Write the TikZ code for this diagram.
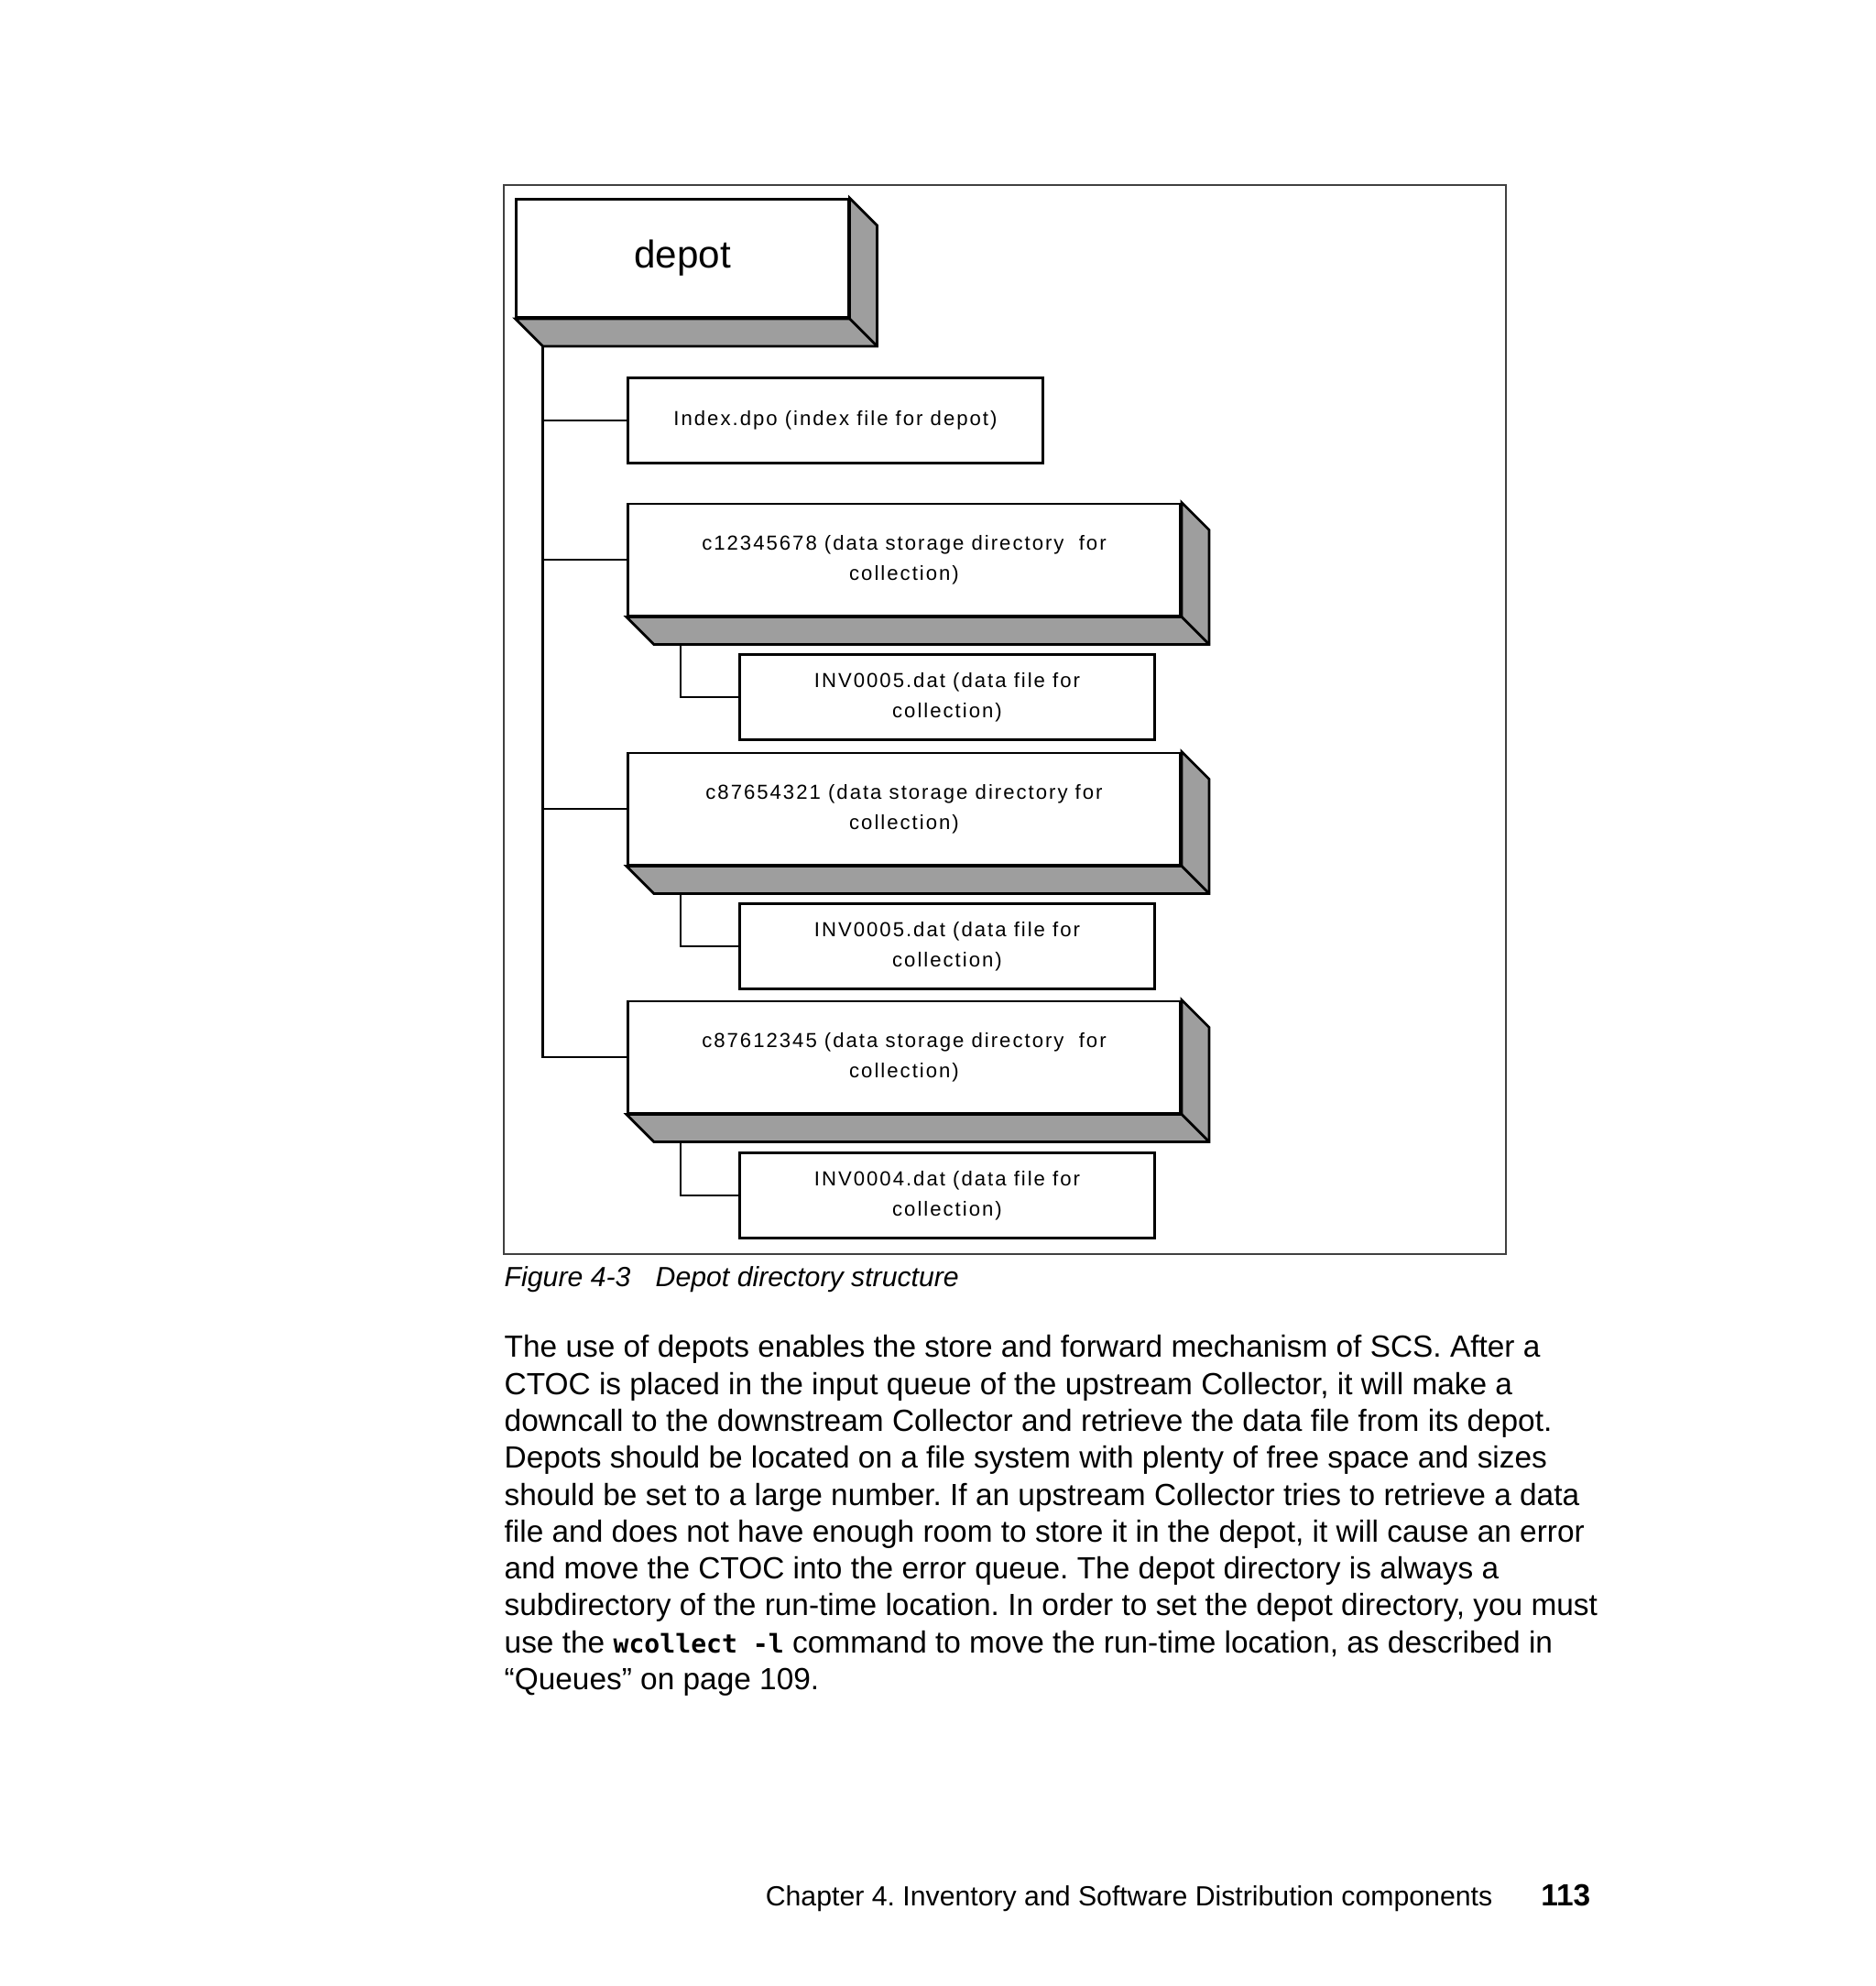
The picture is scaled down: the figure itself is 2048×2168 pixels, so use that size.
\documentclass[tikz,border=0pt]{standalone}
\usepackage{fontspec}
\setmainfont{Liberation Sans}
\newfontfamily\pixfont[LetterSpace=9]{Liberation Sans}
\newfontfamily\codefont{DejaVu Sans Mono}
\usetikzlibrary{calc}
\definecolor{depthgray}{gray}{0.62}
\frenchspacing

\tikzset{
    dirbox/.style={draw, line width=0.8pt, fill=white, inner sep=0pt, align=center,
        minimum width=6.03cm, minimum height=1.22cm,
        font=\pixfont\fontsize{6.3pt}{9.4pt}\selectfont},
    filebox/.style={dirbox, minimum width=4.52cm, minimum height=0.93cm},
    depotbox/.style={dirbox, minimum width=3.62cm, minimum height=1.29cm,
        font=\fontsize{12pt}{14pt}\selectfont},
    depth/.style={draw, fill=depthgray, line width=0.8pt},
    link/.style={line width=0.6pt},
    frame/.style={draw=black!75, line width=0.5pt},
    pagetext/.style={inner sep=0pt, align=left}
}

\begin{document}
\begin{tikzpicture}[x=0.01cm, y=-0.01cm]
    \useasboundingbox (0,0) rectangle (2048,2168);

    % Figure frame
    \draw[frame] (550,202) rectangle (1644,1369);

    % Directory and file boxes
    \node[depotbox] (depot) at (745,282) {depot};
    \node[filebox, minimum width=4.53cm] (index) at (912,459) {Index.dpo (index file for depot)};
    \node[dirbox] (d1) at (987,611) {c12345678 (data storage directory\ \ for\\collection)};
    \node[filebox] (f1) at (1034,761) {INV0005.dat (data file for\\collection)};
    \node[dirbox] (d2) at (987,883) {c87654321 (data storage directory for\\collection)};
    \node[filebox] (f2) at (1034,1033) {INV0005.dat (data file for\\collection)};
    \node[dirbox] (d3) at (987,1154) {c87612345 (data storage directory\ \ for\\collection)};
    \node[filebox] (f3) at (1034,1305) {INV0004.dat (data file for\\collection)};

    % 3D depth of the directory boxes
    \foreach \n in {depot,d1,d2,d3} {
        \filldraw[depth] (\n.south west) -- ++(30,30) -| ($(\n.north east)+(30,30)$)
            -- (\n.north east) -- (\n.south east) -- cycle;
        \draw[depth, fill=none] (\n.south east) -- ++(30,30);
    }

    % Tree lines
    \coordinate (trunk) at ($(depot.south west)+(30,30)$);
    \draw[link] (trunk) |- (d3.west);
    \foreach \n in {index,d1,d2} \draw[link] (trunk |- \n.west) -- (\n.west);
    \foreach \d/\f in {d1/f1,d2/f2,d3/f3} \draw[link] ($(\d.south west)+(59,30)$) |- (\f.west);

    % Caption and page text
    \node[pagetext, anchor=base west, font=\itshape\fontsize{8.6pt}{10pt}\selectfont] (caption)
        at (550,1404) {Figure 4-3\hspace{0.9em}Depot directory structure};
    \node[pagetext, anchor=north west, font=\fontsize{9.5pt}{11.45pt}\selectfont] (body) at (550,1457) {%
        The use of depots enables the store and forward mechanism of SCS. After a\\
        CTOC is placed in the input queue of the upstream Collector, it will make a\\
        downcall to the downstream Collector and retrieve the data file from its depot.\\
        Depots should be located on a file system with plenty of free space and sizes\\
        should be set to a large number. If an upstream Collector tries to retrieve a data\\
        file and does not have enough room to store it in the depot, it will cause an error\\
        and move the CTOC into the error queue. The depot directory is always a\\
        subdirectory of the run-time location. In order to set the depot directory, you must\\
        use the {\codefont\bfseries\fontsize{8pt}{11.45pt}\selectfont wcollect -l} command to move the run-time location, as described in\\
        ``Queues'' on page 109.};
    \node[pagetext, anchor=base east, font=\fontsize{8.6pt}{10pt}\selectfont] (chapter)
        at (1630,2080) {Chapter 4. Inventory and Software Distribution components};
    \node[pagetext, anchor=base east, font=\bfseries\fontsize{9.5pt}{11pt}\selectfont] (pagenum)
        at (1737,2080) {113};
\end{tikzpicture}
\end{document}
